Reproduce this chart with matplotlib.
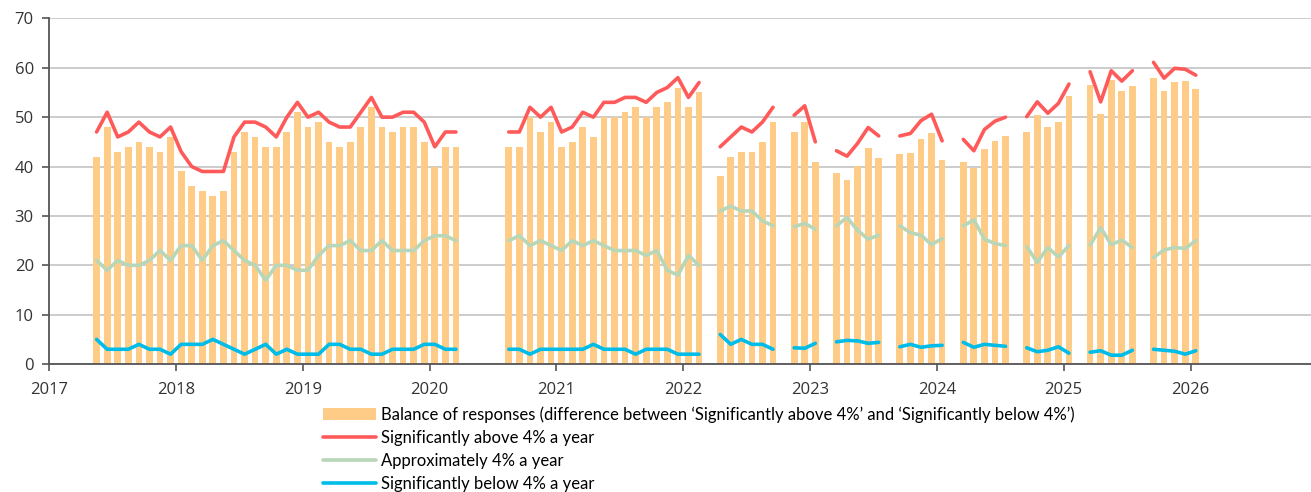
import numpy as np
import matplotlib
matplotlib.use("Agg")
import matplotlib.pyplot as plt

# Monthly survey, May 2017 to Jan 2026 (None = no survey that month)
first_year, first_month = 2017, 5

above = [47, 51, 46, 47, 49, 47, 46, 48, 43, 40, 39, 39, 39, 46, 49, 49, 48, 46,
         50, 53, 50, 51, 49, 48, 48, 51, 54, 50, 50, 51, 51, 49, 44, 47, 47,
         None, None, None, None,
         47, 47, 52, 50, 52, 47, 48, 51, 50, 53, 53, 54, 54, 53, 55, 56, 58, 54, 57,
         None, 44, 46, 48, 47, 49, 52,
         None, 50.4, 52.3, 45.0,
         None, 43.2, 42.1, 44.7, 47.9, 46.2,
         None, 46.2, 46.7, 49.3, 50.6, 45.2,
         None, 45.5, 43.2, 47.5, 49.2, 50.0,
         None, 50.1, 53.1, 50.8, 52.8, 56.7,
         None, 59.2, 53.1, 59.4, 57.3, 59.4,
         None, 61.1, 57.9, 59.9, 59.7, 58.5]

approx = [21, 19, 21, 20, 20, 21, 23, 21, 24, 24, 21, 24, 25, 23, 21, 20, 17, 20,
          20, 19, 19, 22, 24, 24, 25, 23, 23, 25, 23, 23, 23, 25, 26, 26, 25,
          None, None, None, None,
          25, 26, 24, 25, 24, 23, 25, 24, 25, 24, 23, 23, 23, 22, 23, 19, 18, 22, 20,
          None, 31, 32, 31, 31, 29, 28,
          None, 27.8, 28.5, 27.3,
          None, 28.0, 29.7, 27.1, 25.3, 26.1,
          None, 28.0, 26.6, 26.1, 24.2, 25.4,
          None, 28.0, 29.2, 25.3, 24.4, 24.0,
          None, 23.8, 20.6, 23.6, 21.7, 24.0,
          None, 24.1, 27.6, 24.2, 25.1, 23.6,
          None, 21.6, 23.1, 23.6, 23.4, 25.0]

below = [5, 3, 3, 3, 4, 3, 3, 2, 4, 4, 4, 5, 4, 3, 2, 3, 4, 2,
         3, 2, 2, 2, 4, 4, 3, 3, 2, 2, 3, 3, 3, 4, 4, 3, 3,
         None, None, None, None,
         3, 3, 2, 3, 3, 3, 3, 3, 4, 3, 3, 3, 2, 3, 3, 3, 2, 2, 2,
         None, 6, 4, 5, 4, 4, 3,
         None, 3.3, 3.2, 4.2,
         None, 4.5, 4.8, 4.7, 4.2, 4.4,
         None, 3.5, 4.0, 3.4, 3.7, 3.8,
         None, 4.4, 3.4, 4.0, 3.8, 3.6,
         None, 3.3, 2.5, 2.8, 3.5, 2.2,
         None, 2.4, 2.7, 1.8, 1.8, 2.8,
         None, 3.0, 2.8, 2.6, 2.0, 2.7]

balance = [42, 48, 43, 44, 45, 44, 43, 46, 39, 36, 35, 34, 35, 43, 47, 46, 44, 44,
           47, 51, 48, 49, 45, 44, 45, 48, 52, 48, 47, 48, 48, 45, 40, 44, 44,
           None, None, None, None,
           44, 44, 50, 47, 49, 44, 45, 48, 46, 50, 50, 51, 52, 50, 52, 53, 56, 52, 55,
           None, 38, 42, 43, 43, 45, 49,
           None, 46.9, 49.0, 41.0,
           None, 38.6, 37.3, 40.1, 43.7, 41.7,
           None, 42.5, 42.7, 45.6, 46.7, 41.3,
           None, 40.9, 39.8, 43.5, 45.2, 46.2,
           None, 46.9, 50.4, 48.0, 49.0, 54.2,
           None, 56.5, 50.6, 57.5, 55.3, 56.3,
           None, 58.0, 55.2, 57.2, 57.4, 55.8]

years = list(range(2017, 2027))

labels = ["Balance of responses (difference between \u2018Significantly above 4%\u2019 "
          "and \u2018Significantly below 4%\u2019)",
          "Significantly above 4% a year",
          "Approximately 4% a year",
          "Significantly below 4% a year"]

c_bar = "#FFCC88"
c_above = "#FF5A5A"
c_approx = "#B8D6B8"
c_below = "#00BCE8"

above = np.array(above, dtype=float)
approx = np.array(approx, dtype=float)
below = np.array(below, dtype=float)
balance = np.array(balance, dtype=float)

# middle of each month, in years
x = first_year + (first_month - 1 + np.arange(len(above)) + 0.5) / 12
ok = ~np.isnan(balance)

plt.rcParams['font.family'] = ['Lato', 'DejaVu Sans']

fig = plt.figure(figsize=(13.11, 4.92), dpi=100)
ax = fig.add_axes([0.0374, 0.260, 0.9626, 0.7026])

bars = ax.bar(x[ok], balance[ok], width=0.053, color=c_bar, zorder=2)
lw = 2.6
l1, = ax.plot(x, above, color=c_above, lw=lw, solid_capstyle='round', zorder=3)
l2, = ax.plot(x, approx, color=c_approx, lw=lw, solid_capstyle='round', zorder=3)
l3, = ax.plot(x, below, color=c_below, lw=lw, solid_capstyle='round', zorder=3)

ax.set_xlim(2017, 2026.95)
ax.set_ylim(0, 70)
ax.set_yticks(range(0, 71, 10))
ax.set_xticks(years)
ax.set_xticklabels([str(y) for y in years])

ax.grid(axis='y', color='#C8C8C8', lw=1.3, zorder=0)
ax.set_axisbelow(True)
for s in ['top', 'right']:
    ax.spines[s].set_visible(False)
for s in ['left', 'bottom']:
    ax.spines[s].set_color('#555555')
    ax.spines[s].set_linewidth(1.3)
ax.tick_params(axis='both', colors='#555555', length=5, width=1.2, labelsize=12,
               labelcolor='#333333')
ax.tick_params(axis='x', pad=8)
ax.tick_params(axis='y', pad=6)
for t in ax.get_xticklabels() + ax.get_yticklabels():
    t.set_fontfamily(['Open Sans', 'DejaVu Sans'])

fig.legend([bars, l1, l2, l3], labels,
           loc='upper left', bbox_to_anchor=(323 / 1311, 1 - 406 / 492),
           frameon=False, fontsize=12, handlelength=3.2, handletextpad=0.3,
           labelspacing=0.42, borderpad=0, borderaxespad=0)

fig.savefig("out.png", dpi=100)
